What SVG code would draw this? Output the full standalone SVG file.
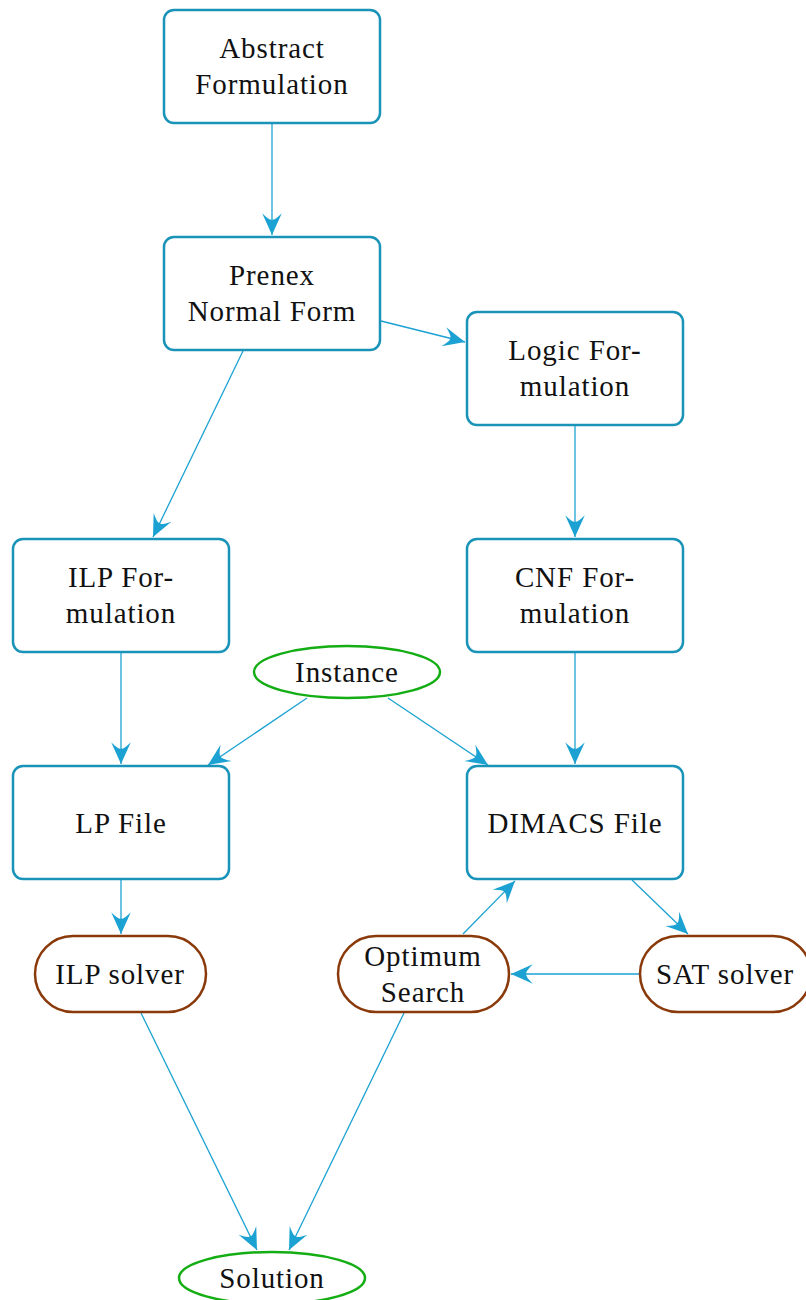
<svg xmlns="http://www.w3.org/2000/svg" width="806" height="1300" viewBox="0 0 806 1300">
<style>
.box{fill:#fff;stroke:#1a93b8;stroke-width:2.5}
.term{fill:#fff;stroke:#8a3a0a;stroke-width:2.5}
.data{fill:#fff;stroke:#14ad14;stroke-width:2.5}
.t{font-family:"Liberation Serif","DejaVu Serif",serif;font-size:29px;letter-spacing:0.9px;fill:#111;text-anchor:middle}
.e{fill:none;stroke:#1ca2d2;stroke-width:1.3}
</style>
<defs>
<marker id="ah" markerUnits="userSpaceOnUse" markerWidth="24" markerHeight="24" viewBox="-21 -10 22 20" refX="0" refY="0" orient="auto">
<path d="M0,0 L-20,-9 Q-13,-2 -14,0 Q-13,2 -20,9 Z" fill="#1ca2d2"/>
</marker>
</defs>
<g id="edges">
<line class="e" x1="272" y1="123" x2="272" y2="235" marker-end="url(#ah)"/>
<line class="e" x1="381" y1="321" x2="465" y2="342" marker-end="url(#ah)"/>
<line class="e" x1="243" y1="351" x2="153" y2="537" marker-end="url(#ah)"/>
<line class="e" x1="575" y1="426" x2="575" y2="537" marker-end="url(#ah)"/>
<line class="e" x1="121" y1="653" x2="121" y2="764" marker-end="url(#ah)"/>
<line class="e" x1="575" y1="653" x2="575" y2="764" marker-end="url(#ah)"/>
<line class="e" x1="307" y1="698" x2="208" y2="765" marker-end="url(#ah)"/>
<line class="e" x1="388" y1="698" x2="488" y2="765" marker-end="url(#ah)"/>
<line class="e" x1="121" y1="880" x2="121" y2="934" marker-end="url(#ah)"/>
<line class="e" x1="632" y1="880" x2="688" y2="934" marker-end="url(#ah)"/>
<line class="e" x1="639" y1="974" x2="511" y2="974" marker-end="url(#ah)"/>
<line class="e" x1="463" y1="934" x2="515" y2="881" marker-end="url(#ah)"/>
<line class="e" x1="141" y1="1013" x2="257" y2="1250" marker-end="url(#ah)"/>
<line class="e" x1="404" y1="1013" x2="289" y2="1250" marker-end="url(#ah)"/>
</g>
<g id="abstract"><rect class="box" x="164" y="10" width="216" height="113" rx="10"/><text class="t" x="272" y="58">Abstract</text><text class="t" x="272" y="94">Formulation</text></g>
<g id="prenex"><rect class="box" x="164" y="237" width="216" height="113" rx="10"/><text class="t" x="272" y="285">Prenex</text><text class="t" x="272" y="321">Normal Form</text></g>
<g id="logic"><rect class="box" x="467" y="312" width="216" height="113" rx="10"/><text class="t" x="575" y="360">Logic For-</text><text class="t" x="575" y="396">mulation</text></g>
<g id="ilpform"><rect class="box" x="13" y="539" width="216" height="113" rx="10"/><text class="t" x="121" y="587">ILP For-</text><text class="t" x="121" y="623">mulation</text></g>
<g id="cnf"><rect class="box" x="467" y="539" width="216" height="113" rx="10"/><text class="t" x="575" y="587">CNF For-</text><text class="t" x="575" y="623">mulation</text></g>
<g id="instance"><ellipse class="data" cx="347" cy="672" rx="93" ry="26"/><text class="t" x="347" y="682">Instance</text></g>
<g id="lpfile"><rect class="box" x="13" y="766" width="216" height="113" rx="10"/><text class="t" x="121" y="833">LP File</text></g>
<g id="dimacs"><rect class="box" x="467" y="766" width="216" height="113" rx="10"/><text class="t" x="575" y="833">DIMACS File</text></g>
<g id="ilpsolver"><rect class="term" x="35" y="936" width="171" height="76" rx="38"/><text class="t" x="120" y="984">ILP solver</text></g>
<g id="optimum"><rect class="term" x="338" y="936" width="171" height="76" rx="38"/><text class="t" x="423" y="966">Optimum</text><text class="t" x="423" y="1002">Search</text></g>
<g id="satsolver"><rect class="term" x="640" y="936" width="171" height="76" rx="38"/><text class="t" x="725" y="984">SAT solver</text></g>
<g id="solution"><ellipse class="data" cx="272" cy="1278" rx="93" ry="26"/><text class="t" x="272" y="1288">Solution</text></g>
</svg>
